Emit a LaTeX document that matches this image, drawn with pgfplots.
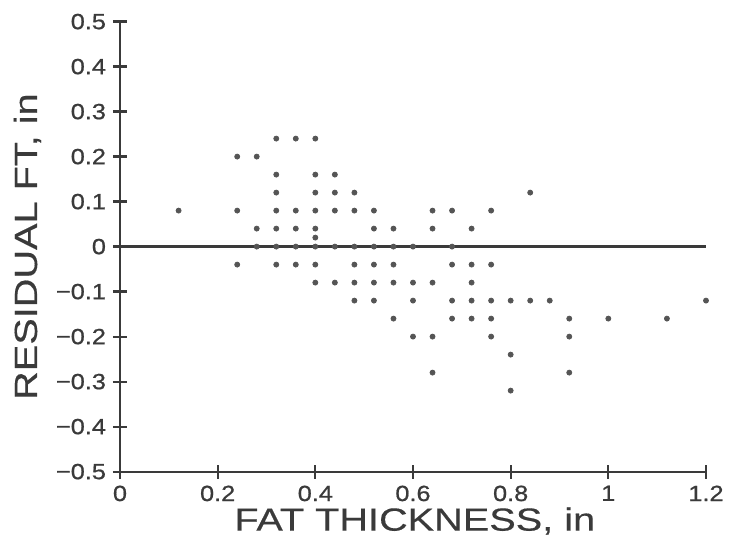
\documentclass[border=0pt]{standalone}
\usepackage{fontspec}
\setmainfont{Liberation Sans}
\newfontfamily\labfont[FakeStretch=1.24,FakeBold=0.4]{Liberation Sans}
\newfontfamily\tickfont[FakeStretch=1.15,FakeBold=0.8]{Liberation Sans}
\usepackage{pgfplots}
\pgfplotsset{compat=1.18}
\definecolor{ink}{HTML}{3A3A3A}
\definecolor{dot}{HTML}{555555}
\begin{document}
\begin{tikzpicture}
\begin{axis}[
  name=ax,
  scale only axis,
  width=293pt, height=225pt,
  xmin=0, xmax=1.2, ymin=-0.5, ymax=0.5,
  axis lines=left,
  axis line style={-, line width=1.1pt, ink},
  tick style={line width=1.1pt, ink},
  tick align=center,
  major tick length=7pt,
  xtick={0,0.2,0.4,0.6,0.8,1,1.2},
  xticklabels={0,0.2,0.4,0.6,0.8,1,1.2},
  ytick={-0.5,-0.4,-0.3,-0.2,-0.1,0,0.1,0.2,0.3,0.4,0.5},
  yticklabels={−0.5,−0.4,−0.3,−0.2,−0.1,0,0.1,0.2,0.3,0.4,0.5},
  tick label style={font=\tickfont\fontsize{11}{13}\selectfont, text=ink},
  xlabel={FAT THICKNESS, in},
  ylabel={RESIDUAL FT, in},
  label style={font=\labfont\fontsize{16}{18}\selectfont, text=ink},
  xlabel style={at={(axis description cs:0.503,-0.11)}, anchor=center},
  ylabel style={at={(axis description cs:-0.158,0.5)}, anchor=center},
  clip=false,
]
\addplot[line width=1.1pt, ink] coordinates {(0,0) (1.2,0)};
\addplot[only marks, mark=*, mark size=1.25pt, dot, mark options={draw=dot, fill=dot}] coordinates {
(0.12,0.08)
(0.24,0.2) (0.24,0.08) (0.24,-0.04)
(0.28,0.2) (0.28,0.04) (0.28,0)
(0.32,0.24) (0.32,0.16) (0.32,0.12) (0.32,0.08) (0.32,0.04) (0.32,0) (0.32,-0.04)
(0.36,0.24) (0.36,0.08) (0.36,0.04) (0.36,0) (0.36,-0.04)
(0.40,0.24) (0.40,0.16) (0.40,0.12) (0.40,0.08) (0.40,0.04) (0.40,0.02) (0.40,0) (0.40,-0.04) (0.40,-0.08)
(0.44,0.16) (0.44,0.12) (0.44,0.08) (0.44,0) (0.44,-0.08)
(0.48,0.12) (0.48,0.08) (0.48,0) (0.48,-0.04) (0.48,-0.08) (0.48,-0.12)
(0.52,0.08) (0.52,0.04) (0.52,0) (0.52,-0.04) (0.52,-0.08) (0.52,-0.12)
(0.56,0.04) (0.56,0) (0.56,-0.04) (0.56,-0.08) (0.56,-0.16)
(0.60,0) (0.60,-0.08) (0.60,-0.12) (0.60,-0.2)
(0.64,0.08) (0.64,0.04) (0.64,-0.08) (0.64,-0.2) (0.64,-0.28)
(0.68,0.08) (0.68,0) (0.68,-0.04) (0.68,-0.12) (0.68,-0.16)
(0.72,0.04) (0.72,-0.04) (0.72,-0.08) (0.72,-0.12) (0.72,-0.16)
(0.76,0.08) (0.76,-0.04) (0.76,-0.12) (0.76,-0.16) (0.76,-0.2)
(0.80,-0.12) (0.80,-0.24) (0.80,-0.32)
(0.84,0.12) (0.84,-0.12)
(0.88,-0.12)
(0.92,-0.16) (0.92,-0.2) (0.92,-0.28)
(1.0,-0.16)
(1.12,-0.16)
(1.2,-0.12)
};
\end{axis}
\pgfresetboundingbox
\useasboundingbox ([xshift=-60pt,yshift=-38.5pt]ax.south west) rectangle ([xshift=12pt,yshift=10.8pt]ax.north east);
\end{tikzpicture}
\end{document}
